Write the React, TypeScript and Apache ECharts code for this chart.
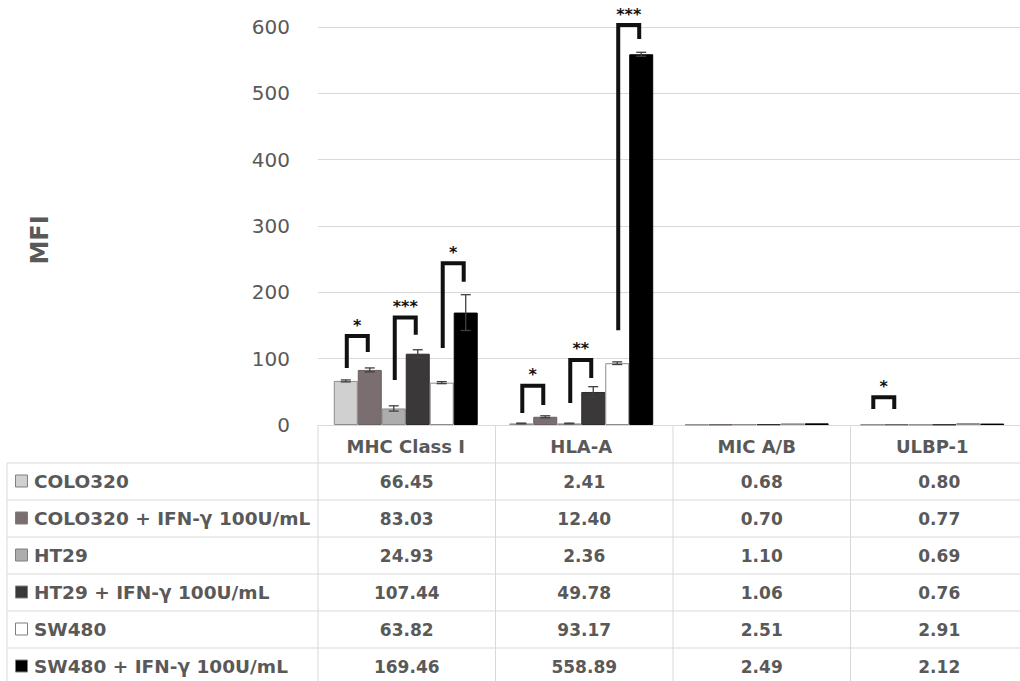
import React, { useEffect, useRef } from "react";
import * as echarts from "echarts";

// ---------- data ----------
const categories = ["MHC Class I", "HLA-A", "MIC A/B", "ULBP-1"];
const seriesNames = [
  "COLO320",
  "COLO320 + IFN-γ 100U/mL",
  "HT29",
  "HT29 + IFN-γ 100U/mL",
  "SW480",
  "SW480 + IFN-γ 100U/mL",
];
const colo320 = [66.45, 2.41, 0.68, 0.8];
const colo320Ifn = [83.03, 12.4, 0.7, 0.77];
const ht29 = [24.93, 2.36, 1.1, 0.69];
const ht29Ifn = [107.44, 49.78, 1.06, 0.76];
const sw480 = [63.82, 93.17, 2.51, 2.91];
const sw480Ifn = [169.46, 558.89, 2.49, 2.12];

// error bar half-widths
const errColo320 = [1.5, 0.5, 0, 0];
const errColo320Ifn = [3, 1.5, 0, 0];
const errHt29 = [4, 0.5, 0, 0];
const errHt29Ifn = [6, 8, 0, 0];
const errSw480 = [1.5, 2, 0, 0];
const errSw480Ifn = [27, 3, 0, 0];

// significance brackets: [category, left series, right series, top, left leg bottom, right leg bottom]
const brackets = [
  [0, 0, 1, 134, 86, 110],
  [0, 2, 3, 162, 68, 136],
  [0, 4, 5, 244, 116, 216],
  [1, 0, 1, 59, 18, 30],
  [1, 2, 3, 98, 33, 71],
  [1, 4, 5, 603, 143, 582],
  [3, 0, 1, 42, 24, 24],
];
const bracketLabels = ["*", "***", "*", "*", "**", "***", "*"];

const yMin = 0;
const yMax = 600;
const yInterval = 100;

// ---------- styles ----------
const barColors = ["#d0d0d0", "#7a6e70", "#adadad", "#3b3839", "#ffffff", "#000000"];
const barBorders = ["#8c8c8c", "#6a5f61", "#8a8a8a", "#2e2b2c", "#8c8c8c", "#000000"];
const FONT = "DejaVu Sans";
const TXT = "#595959";
const GRID_LEFT = 318;
const GRID_TOP = 27;
const GRID_BOTTOM_Y = 425;
const CAT_W = 177.5;
const CAT_GAP = 0.18;
const ROW_TOP = 463;
const ROW_H = 37;

export default function App() {
  const ref = useRef<HTMLDivElement>(null);
  useEffect(() => {
    if (!ref.current) return;
    const chart = echarts.init(ref.current, null, { renderer: "svg" });
    const values = [colo320, colo320Ifn, ht29, ht29Ifn, sw480, sw480Ifn];
    const errs = [errColo320, errColo320Ifn, errHt29, errHt29Ifn, errSw480, errSw480Ifn];

    const barX = (api: any, cat: number, s: number) => {
      const bandW = api.size([1, 0])[0];
      const barW = (bandW * (1 - CAT_GAP)) / 6;
      const cx = api.coord([cat, 0])[0];
      return cx - 3 * barW + (s + 0.5) * barW;
    };

    const errData: number[][] = [];
    values.forEach((arr, s) =>
      arr.forEach((v, c) => {
        const e = errs[s][c];
        if (e > 0) errData.push([c, s, v - e, v + e]);
      })
    );

    const barSeries = seriesNames.map((name, i) => ({
      name,
      type: "bar",
      data: values[i],
      barGap: "0%",
      barCategoryGap: CAT_GAP * 100 + "%",
      itemStyle: { color: barColors[i], borderColor: barBorders[i], borderWidth: 1 },
      silent: true,
    }));

    // table graphics
    const W = 1020;
    const elements: any[] = [];
    const lineStyle = { stroke: "#d9d9d9", lineWidth: 1 };
    for (let k = 0; k <= 6; k++) {
      const y = ROW_TOP + k * ROW_H;
      elements.push({ type: "line", silent: true, shape: { x1: 7, y1: y, x2: W, y2: y }, style: lineStyle });
    }
    elements.push({ type: "line", silent: true, shape: { x1: 7, y1: ROW_TOP, x2: 7, y2: 690 }, style: lineStyle });
    for (let c = 0; c <= 4; c++) {
      const x = GRID_LEFT + c * CAT_W;
      elements.push({ type: "line", silent: true, shape: { x1: x, y1: GRID_BOTTOM_Y, x2: x, y2: 690 }, style: lineStyle });
    }
    seriesNames.forEach((name, r) => {
      const yc = ROW_TOP + ROW_H * (r + 0.5);
      elements.push({
        type: "rect",
        silent: true,
        shape: { x: 15.5, y: yc - 6.5, width: 12, height: 12 },
        style: { fill: barColors[r], stroke: "#7f7f7f", lineWidth: 1 },
      });
      elements.push({
        type: "text",
        silent: true,
        x: 34,
        y: yc,
        style: {
          text: name,
          fontFamily: FONT,
          fontSize: 18.5,
          fontWeight: "bold",
          fill: TXT,
          align: "left",
          verticalAlign: "middle",
        },
      });
      values[r].forEach((v, c) => {
        elements.push({
          type: "text",
          silent: true,
          x: GRID_LEFT + CAT_W * (c + 0.5),
          y: yc,
          style: {
            text: v.toFixed(2),
            fontFamily: FONT,
            fontSize: 17,
            fontWeight: "bold",
            fill: TXT,
            align: "center",
            verticalAlign: "middle",
          },
        });
      });
    });
    elements.push({
      type: "text",
      silent: true,
      x: 40,
      y: 240,
      rotation: Math.PI / 2,
      style: {
        text: "MFI",
        fontFamily: FONT,
        fontSize: 24,
        fontWeight: "bold",
        fill: TXT,
        align: "center",
        verticalAlign: "middle",
      },
    });

    chart.setOption({
      animation: false,
      backgroundColor: "#ffffff",
      textStyle: { fontFamily: FONT },
      grid: { left: GRID_LEFT, top: GRID_TOP, width: CAT_W * 4, height: GRID_BOTTOM_Y - GRID_TOP, containLabel: false },
      xAxis: {
        type: "category",
        data: categories,
        axisLine: { show: true, lineStyle: { color: "#d9d9d9", width: 1 } },
        axisTick: { show: false },
        axisLabel: {
          interval: 0,
          margin: 12,
          fontFamily: FONT,
          fontSize: 18,
          fontWeight: "bold",
          color: TXT,
        },
      },
      yAxis: {
        type: "value",
        min: yMin,
        max: yMax,
        interval: yInterval,
        axisLine: { show: false },
        axisTick: { show: false },
        axisLabel: { margin: 28, fontFamily: FONT, fontSize: 20, color: TXT },
        splitLine: { lineStyle: { color: "#d9d9d9", width: 1 } },
      },
      series: [
        ...barSeries,
        {
          type: "custom",
          name: "errors",
          silent: true,
          clip: false,
          data: errData,
          encode: { x: 0, y: 3 },
          z: 5,
          renderItem: (params: any, api: any) => {
            const c = api.value(0);
            const s = api.value(1);
            const x = barX(api, c, s);
            const yl = api.coord([c, api.value(2)])[1];
            const yh = api.coord([c, api.value(3)])[1];
            const st = { stroke: "#404040", lineWidth: 1.3 };
            return {
              type: "group",
              children: [
                { type: "line", shape: { x1: x, y1: yl, x2: x, y2: yh }, style: st },
                { type: "line", shape: { x1: x - 5, y1: yl, x2: x + 5, y2: yl }, style: st },
                { type: "line", shape: { x1: x - 5, y1: yh, x2: x + 5, y2: yh }, style: st },
              ],
            };
          },
        },
        {
          type: "custom",
          name: "significance",
          silent: true,
          clip: false,
          data: brackets,
          encode: { x: 0, y: 3 },
          z: 6,
          renderItem: (params: any, api: any) => {
            const c = api.value(0);
            const xl = barX(api, c, api.value(1)) + 1;
            const xr = barX(api, c, api.value(2)) - 2;
            const yt = api.coord([c, api.value(3)])[1];
            const ylb = api.coord([c, api.value(4)])[1];
            const yrb = api.coord([c, api.value(5)])[1];
            return {
              type: "group",
              children: [
                {
                  type: "polyline",
                  shape: { points: [[xl, ylb], [xl, yt], [xr, yt], [xr, yrb]] },
                  style: { stroke: "#111111", lineWidth: 4, fill: null, lineJoin: "miter" },
                },
                {
                  type: "text",
                  x: (xl + xr) / 2,
                  y: yt - 3,
                  style: {
                    text: bracketLabels[params.dataIndex],
                    fontFamily: FONT,
                    fontSize: 16,
                    fontWeight: "bold",
                    fill: "#111111",
                    align: "center",
                    verticalAlign: "bottom",
                  },
                },
              ],
            };
          },
        },
      ],
      graphic: { elements },
    });
    return () => chart.dispose();
  }, []);
  return (
    <div
      ref={ref}
      style={{ position: "absolute", left: 0, top: 0, width: 1020, height: 681, background: "#fff" }}
    />
  );
}
